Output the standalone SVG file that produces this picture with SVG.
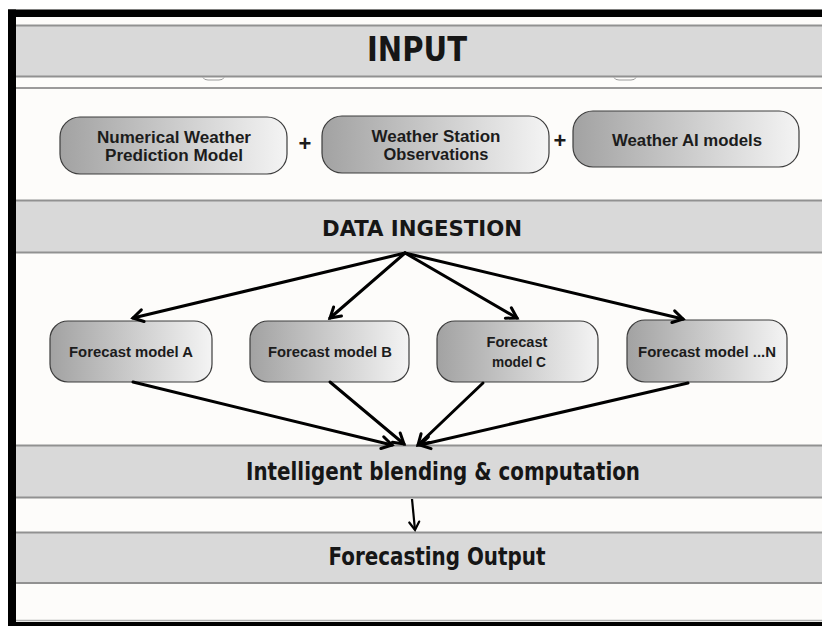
<svg xmlns="http://www.w3.org/2000/svg" width="822" height="626" viewBox="0 0 822 626">
<defs>
<linearGradient id="g" x1="0" y1="0" x2="1" y2="0">
<stop offset="0" stop-color="#a2a2a2"/>
<stop offset="1" stop-color="#f4f4f4"/>
</linearGradient>
<marker id="ah" markerUnits="userSpaceOnUse" markerWidth="16" markerHeight="16" viewBox="0 0 16 16" refX="13" refY="8" orient="auto">
<path d="M3,2 L13,8 L3,14" fill="none" stroke="#000" stroke-width="3" stroke-linecap="round" stroke-linejoin="miter"/>
</marker>
<marker id="ah2" markerUnits="userSpaceOnUse" markerWidth="14" markerHeight="14" viewBox="0 0 14 14" refX="11" refY="7" orient="auto">
<path d="M3,2 L11,7 L3,12" fill="none" stroke="#000" stroke-width="2.2" stroke-linecap="round"/>
</marker>
</defs>
<style>
.band{fill:#d9d9d9}
.edge{stroke:#919191;stroke-width:2;fill:none}
.bt{font-family:"DejaVu Sans Condensed","DejaVu Sans",sans-serif;font-stretch:condensed;font-weight:bold;fill:#161616;text-anchor:middle;dominant-baseline:central}
.box{fill:url(#g);stroke:#3c3c3c;stroke-width:1.2}
.tx{font-family:"Liberation Sans",Arial,sans-serif;font-weight:bold;fill:#1c1c1c;text-anchor:middle;dominant-baseline:central}
.ln{stroke:#000;stroke-width:3;fill:none;stroke-linecap:round}
</style>
<rect x="0" y="0" width="822" height="626" fill="#fdfcfa"/>
<rect x="0" y="0" width="822" height="9.5" fill="#ffffff"/>
<rect x="0" y="0" width="8" height="626" fill="#ffffff"/>

<g id="input-band">
<rect class="band" x="16" y="25" width="806" height="52"/>
<path class="edge" d="M16,25.5 H822 M16,76.5 H822"/>
<path d="M203,77.5 Q204,80 208,80 L219,80 Q223,80 224,77.5" fill="none" stroke="#9a9a9a" stroke-width="1"/>
<path d="M614,77.5 Q615,80 619,80 L631,80 Q635,80 636,77.5" fill="none" stroke="#9a9a9a" stroke-width="1"/>
<text class="bt" x="417" y="49" font-size="34" textLength="100" lengthAdjust="spacingAndGlyphs">INPUT</text>
</g>
<path d="M16,88 H822" stroke="#7a7a7a" stroke-width="1.5"/>

<g id="nwp">
<rect class="box" x="60" y="117" width="227" height="57" rx="20"/>
<text class="tx" x="174" y="137" font-size="16" textLength="154" lengthAdjust="spacingAndGlyphs">Numerical Weather</text>
<text class="tx" x="174" y="155" font-size="16" textLength="138" lengthAdjust="spacingAndGlyphs">Prediction Model</text>
</g>
<text class="tx" x="305" y="143" font-size="22">+</text>
<g id="wso">
<rect class="box" x="322" y="116" width="227" height="57" rx="20"/>
<text class="tx" x="436" y="136" font-size="16" textLength="129" lengthAdjust="spacingAndGlyphs">Weather Station</text>
<text class="tx" x="436" y="154" font-size="16" textLength="105" lengthAdjust="spacingAndGlyphs">Observations</text>
</g>
<text class="tx" x="560" y="140" font-size="22">+</text>
<g id="ai">
<rect class="box" x="573" y="111" width="226" height="56" rx="20"/>
<text class="tx" x="687" y="140" font-size="16" textLength="150" lengthAdjust="spacingAndGlyphs">Weather AI models</text>
</g>

<g id="ingestion">
<rect class="band" x="16" y="200" width="806" height="53"/>
<path class="edge" d="M16,200.5 H822 M16,252.5 H822"/>
<text class="bt" x="422" y="228" font-size="22" textLength="200" lengthAdjust="spacingAndGlyphs">DATA INGESTION</text>
</g>

<g id="fa">
<rect class="box" x="50" y="321" width="162" height="61" rx="18"/>
<text class="tx" x="131" y="352" font-size="14.5" textLength="124" lengthAdjust="spacingAndGlyphs">Forecast model A</text>
</g>
<g id="fb">
<rect class="box" x="250" y="321" width="159" height="61" rx="18"/>
<text class="tx" x="330" y="352" font-size="14.5" textLength="124" lengthAdjust="spacingAndGlyphs">Forecast model B</text>
</g>
<g id="fc">
<rect class="box" x="437" y="321" width="161" height="61" rx="18"/>
<text class="tx" x="517" y="342" font-size="14.5" textLength="61" lengthAdjust="spacingAndGlyphs">Forecast</text>
<text class="tx" x="519" y="362" font-size="14.5" textLength="54" lengthAdjust="spacingAndGlyphs">model C</text>
</g>
<g id="fn">
<rect class="box" x="627" y="320" width="160" height="62" rx="18"/>
<text class="tx" x="707" y="352" font-size="14.5" textLength="138" lengthAdjust="spacingAndGlyphs">Forecast model ...N</text>
</g>

<g id="blending">
<rect class="band" x="16" y="445" width="806" height="53"/>
<path class="edge" d="M16,445.5 H822 M16,497.5 H822"/>
<text class="bt" x="443" y="472" font-size="24" textLength="394" lengthAdjust="spacingAndGlyphs">Intelligent blending &amp; computation</text>
</g>

<g id="output">
<rect class="band" x="16" y="532" width="806" height="51"/>
<path class="edge" d="M16,532.5 H822 M16,583 H822"/>
<text class="bt" x="437" y="557" font-size="24" textLength="217" lengthAdjust="spacingAndGlyphs">Forecasting Output</text>
</g>

<g id="connectors">
<line class="ln" x1="405" y1="253" x2="133" y2="318" marker-end="url(#ah)"/>
<line class="ln" x1="405" y1="253" x2="330" y2="318" marker-end="url(#ah)"/>
<line class="ln" x1="405" y1="253" x2="517" y2="318" marker-end="url(#ah)"/>
<line class="ln" x1="405" y1="253" x2="683" y2="319" marker-end="url(#ah)"/>
<line class="ln" x1="133" y1="382" x2="392" y2="445" marker-end="url(#ah)"/>
<line class="ln" x1="330" y1="382" x2="404" y2="444" marker-end="url(#ah)"/>
<line class="ln" x1="483" y1="383" x2="418" y2="445" marker-end="url(#ah)"/>
<line class="ln" x1="688" y1="383" x2="420" y2="445" marker-end="url(#ah)"/>
<line x1="412" y1="499" x2="415" y2="530" stroke="#000" stroke-width="2.2" marker-end="url(#ah2)"/>
</g>

<path d="M16,620.5 H822" stroke="#b0b0b0" stroke-width="1.5"/>
<rect x="8" y="9.5" width="814" height="7.5" fill="#000"/>
<rect x="8" y="9.5" width="8" height="616.5" fill="#000"/>
<rect x="8" y="622" width="814" height="4" fill="#000"/>
</svg>
